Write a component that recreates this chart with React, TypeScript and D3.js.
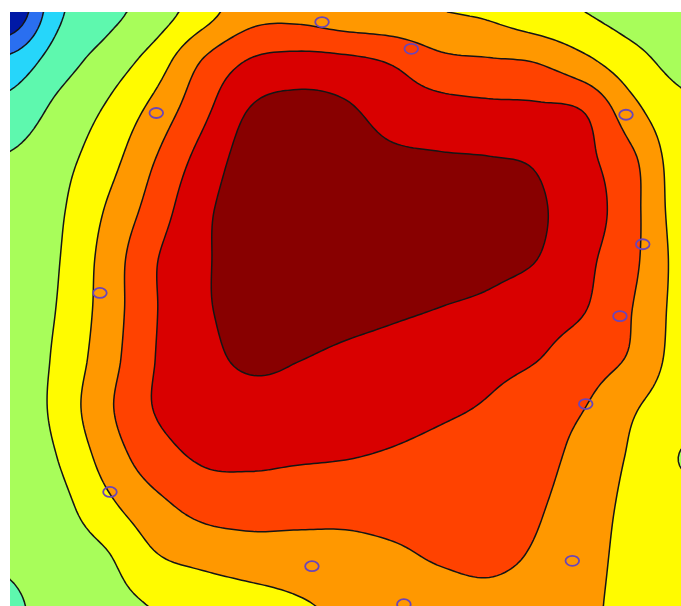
import React, { useMemo } from "react";
import * as d3 from "d3";

// Field values on a regular 15 x 13 grid (columns left->right, rows top->bottom)
const fieldRows: number[][] = [
  [0.05, 2.78, 3.67, 4.45, 5.54, 6.6, 6.7, 6.35, 6.2, 6.02, 5.85, 5.35, 5.0, 4.6, 4.4],
  [2.3, 3.53, 4.41, 5.43, 7.04, 8.08, 8.33, 8.23, 7.9, 7.25, 7.1, 6.95, 6.23, 5.34, 4.7],
  [3.36, 4.26, 5.11, 6.3, 7.72, 9.05, 9.35, 9.15, 8.57, 8.39, 8.26, 8.2, 7.95, 6.3, 5.25],
  [4.1, 4.67, 5.59, 6.97, 8.35, 9.4, 9.5, 9.45, 9.2, 9.1, 9.05, 8.9, 8.25, 7.16, 5.45],
  [4.3, 4.85, 6.06, 7.42, 8.76, 9.45, 9.6, 9.6, 9.5, 9.45, 9.35, 9.1, 8.5, 7.27, 5.55],
  [4.25, 4.95, 6.35, 7.89, 8.85, 9.4, 9.6, 9.55, 9.45, 9.35, 9.25, 9.0, 8.23, 7.2, 5.7],
  [4.2, 5.05, 6.4, 7.9, 8.85, 9.3, 9.35, 9.25, 9.12, 8.98, 8.8, 8.4, 8.03, 6.98, 5.7],
  [4.15, 5.2, 6.53, 7.97, 8.64, 9.2, 9.03, 8.85, 8.7, 8.5, 8.3, 8.03, 7.47, 6.85, 5.6],
  [4.15, 5.3, 6.77, 8.02, 8.3, 8.5, 8.55, 8.45, 8.35, 8.15, 7.9, 7.45, 7.0, 6.1, 5.4],
  [4.1, 5.02, 6.36, 7.55, 8.1, 8.18, 8.1, 8.03, 7.89, 7.7, 7.5, 7.3, 6.65, 5.85, 4.97],
  [4.05, 4.65, 5.72, 6.66, 7.3, 7.42, 7.35, 7.28, 7.35, 7.43, 7.45, 7.1, 6.45, 5.75, 5.3],
  [4.08, 4.45, 4.9, 5.9, 6.3, 6.54, 6.6, 6.7, 6.85, 7.1, 7.2, 6.88, 6.3, 5.7, 5.2],
  [3.9, 4.3, 4.68, 5.04, 5.32, 5.6, 5.9, 6.15, 6.35, 6.6, 6.75, 6.55, 6.15, 5.75, 5.3],
];

const levels = [1, 2, 3, 4, 5, 6, 7, 8, 9];
const bandColors = [
  "#0019a6", "#2a6ff0", "#26d6fa", "#5ef8ae", "#a8fd5a",
  "#fffb00", "#ff9800", "#ff4200", "#d90000", "#880000",
];

// Marker (sensor) positions in data units (0..100 on both axes, y downward)
const markerX = [46.5, 59.8, 21.8, 91.8, 94.3, 13.4, 90.9, 85.8, 14.9, 83.8, 45.0, 58.7];
const markerY = [1.7, 6.2, 17.0, 17.3, 39.1, 47.3, 51.2, 66.0, 80.8, 92.4, 93.3, 99.7];

const W = 681;
const H = 606;
const PL = 10, PT = 12, PR = 681, PB = 606;
const UP = 12;

function cubic(p0: number, p1: number, p2: number, p3: number, t: number) {
  return p1 + 0.5 * t * (p2 - p0 + t * (2 * p0 - 5 * p1 + 4 * p2 - p3 + t * (3 * (p1 - p2) + p3 - p0)));
}

export default function App() {
  const { paths, markers } = useMemo(() => {
    const rows = fieldRows.length;
    const cols = fieldRows[0].length;
    const nx = (cols - 1) * UP + 1;
    const ny = (rows - 1) * UP + 1;
    const at = (r: number, c: number) =>
      fieldRows[Math.max(0, Math.min(rows - 1, r))][Math.max(0, Math.min(cols - 1, c))];
    const values = new Float64Array(nx * ny);
    for (let j = 0; j < ny; j++) {
      const v = j / UP;
      const r = Math.min(rows - 2, Math.floor(v));
      const tv = v - r;
      for (let i = 0; i < nx; i++) {
        const u = i / UP;
        const c = Math.min(cols - 2, Math.floor(u));
        const tu = u - c;
        const rowVals = [-1, 0, 1, 2].map((dr) =>
          cubic(at(r + dr, c - 1), at(r + dr, c), at(r + dr, c + 1), at(r + dr, c + 2), tu)
        );
        values[j * nx + i] = cubic(rowVals[0], rowVals[1], rowVals[2], rowVals[3], tv);
      }
    }
    const xScale = d3.scaleLinear().domain([0, 100]).range([PL, PR]);
    const yScale = d3.scaleLinear().domain([0, 100]).range([PT, PB]);
    const gx = d3.scaleLinear().domain([0.5, nx - 0.5]).range([0, 100]);
    const gy = d3.scaleLinear().domain([0.5, ny - 0.5]).range([0, 100]);
    const proj = d3.geoTransform({
      point(x: number, y: number) {
        (this as any).stream.point(xScale(gx(x)), yScale(gy(y)));
      },
    });
    const path = d3.geoPath(proj);
    const contours = d3.contours().size([nx, ny]).thresholds(levels)(Array.from(values));
    const paths = contours.map((c, k) => ({ d: path(c as any) || "", color: bandColors[k + 1] }));
    const markers = markerX.map((mx, i) => ({ cx: xScale(mx), cy: yScale(markerY[i]) }));
    return { paths, markers };
  }, []);

  return (
    <svg
      width={W}
      height={H}
      style={{ position: "absolute", left: 0, top: 0, background: "#fff" }}
    >
      <defs>
        <clipPath id="plotClip">
          <rect x={PL} y={PT} width={PR - PL} height={PB - PT} />
        </clipPath>
      </defs>
      <g clipPath="url(#plotClip)">
        <rect x={PL} y={PT} width={PR - PL} height={PB - PT} fill={bandColors[0]} />
        {paths.map((p, i) => (
          <path key={i} d={p.d} fill={p.color} stroke="#151515" strokeWidth={1.5} strokeLinejoin="round" />
        ))}
        {markers.map((m, i) => (
          <ellipse key={i} cx={m.cx} cy={m.cy} rx={6.8} ry={5} fill="none" stroke="#6b45b8" strokeWidth={1.8} />
        ))}
      </g>
    </svg>
  );
}
